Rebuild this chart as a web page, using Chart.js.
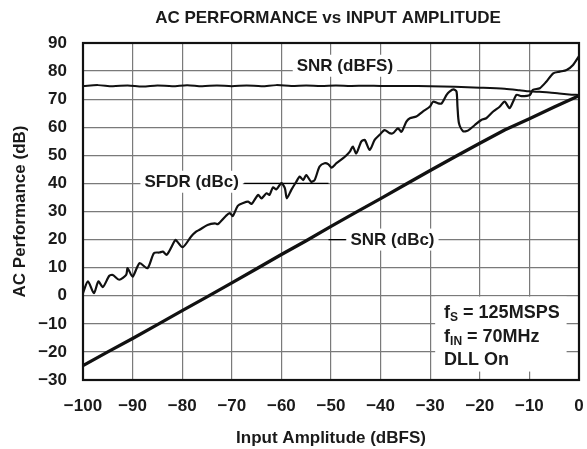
<!DOCTYPE html>
<html>
<head>
<meta charset="utf-8">
<title>AC Performance vs Input Amplitude</title>
<script src="https://cdn.jsdelivr.net/npm/chart.js@4.4.1/dist/chart.umd.min.js"></script>
<style>
  html, body { margin: 0; padding: 0; background: #fff; }
  #wrap { width: 587px; height: 449px; }
</style>
</head>
<body>
<div id="wrap"><canvas id="chart" width="587" height="449"></canvas></div>
<script>
"use strict";

const FONT = "'Liberation Sans', Arial, Helvetica, sans-serif";

const X_TICKS = [-100, -90, -80, -70, -60, -50, -40, -30, -20, -10, 0];
const Y_TICKS = [-30, -20, -10, 0, 10, 20, 30, 40, 50, 60, 70, 80, 90];

// SNR (dBFS)
const snrFsX = [-100, -97, -94, -91, -88, -85, -82, -79, -76, -73, -70, -67, -64, -61, -58,
  -55, -52, -49, -46, -43, -40, -35, -30, -25, -20, -15, -12, -10, -8, -6, -4, -2, 0];
const snrFsY = [74.7, 75.0, 74.6, 74.9, 74.5, 74.9, 74.6, 75.0, 74.6, 74.9, 74.6, 74.9, 74.6, 75.0, 74.7,
  74.9, 74.7, 74.9, 74.7, 74.8, 74.7, 74.7, 74.6, 74.4, 74.1, 73.7, 73.2, 72.8, 72.6, 72.4, 72.0, 71.7, 71.5];

// SNR (dBc)
const snrCX = [-100, -95, -90, -85, -80, -75, -70, -65, -60, -55, -50, -45, -40, -35, -30,
  -25, -20, -15, -10, -5, 0];
const snrCY = [-24.9, -20.0, -15.2, -10.3, -5.3, -0.4, 4.6, 9.6, 14.7, 19.6, 24.7, 29.7, 34.6, 39.6, 44.6,
  49.5, 54.3, 59.0, 63.0, 67.2, 71.2];

// SFDR (dBc)
const sfdrX = [-100, -99.0, -97.8, -96.9, -96.0, -94.7, -94.0, -92.7, -91.3, -91.0, -90.0, -88.6, -87.0,
  -85.7, -84.6, -83.9, -83.1, -81.6, -81.3, -79.9, -78.2, -77.2, -76.5, -74.9, -73.4, -72.8, -71.2,
  -70.4, -69.8, -68.8, -67.7, -66.7, -66.0, -64.7, -64.0, -63.0, -62.4, -61.7, -61.0, -60.0, -59.3,
  -58.9, -58.0, -57.0, -56.3, -55.6, -55.0, -54.0, -53.3, -52.3, -51.3, -50.5, -49.9, -48.9, -47.2,
  -46.2, -45.6, -44.9, -43.9, -43.2, -42.2, -41.2, -40.2, -39.2, -38.2, -37.5, -36.5, -35.8, -34.8,
  -34.1, -32.8, -31.5, -30.1, -29.4, -28.4, -27.7, -26.7, -26.1, -25.3, -24.7, -24.5, -24.2, -23.4,
  -22.4, -21.0, -19.7, -18.7, -17.3, -16.0, -15.0, -14.0, -13.3, -12.6, -11.6, -9.9, -9.3, -7.9,
  -6.6, -5.2, -3.9, -2.5, -1.2, 0];
const sfdrY = [1.0, 5.1, 0.9, 5.1, 3.1, 7.1, 7.4, 5.7, 7.4, 9.8, 6.8, 11.6, 9.8,
  15.2, 15.4, 15.7, 14.6, 19.3, 19.9, 17.3, 21.1, 22.8, 23.5, 25.2, 25.8, 25.5, 28.4,
  29.4, 28.4, 32.0, 33.0, 33.5, 32.7, 35.9, 34.7, 36.5, 35.9, 38.6, 37.9, 40.1, 38.3,
  34.7, 37.7, 40.6, 42.4, 41.2, 43.0, 40.6, 41.2, 46.0, 47.2, 46.8, 45.6, 47.2, 49.5,
  51.3, 53.1, 50.7, 54.9, 55.5, 51.9, 55.5, 57.3, 59.0, 57.9, 57.9, 59.6, 58.4, 62.0,
  63.2, 63.8, 65.6, 67.3, 69.1, 68.5, 68.5, 71.5, 72.7, 73.5, 72.7, 67.3, 61.4, 58.6,
  58.8, 60.8, 62.6, 63.2, 65.6, 67.3, 69.1, 66.8, 69.1, 71.5, 71.1, 71.5, 73.3, 73.9,
  76.2, 79.2, 79.8, 80.4, 82.2, 85.3];

const pts = (xs, ys) => xs.map((x, i) => ({ x, y: ys[i] }));
const fmt = v => (v < 0 ? "\u2212" + Math.abs(v) : String(v));

// labels in value coordinates: [text, x, y]
const CURVE_LABELS = [
  ["SNR (dBFS)", -47.2, 81.9],
  ["SFDR (dBc)", -78.1, 40.6],
  ["SNR (dBc)", -37.6, 20],
];

const overlay = {
  id: "overlay",
  beforeDatasetsDraw(chart) {
    const { ctx, chartArea: a, scales: { x, y } } = chart;
    ctx.save();
    ctx.font = `bold 17px ${FONT}`;
    ctx.textBaseline = "middle";
    ctx.textAlign = "center";

    // leader lines
    ctx.strokeStyle = "#000";
    ctx.lineWidth = 1.2;
    ctx.beginPath();
    ctx.moveTo(x.getPixelForValue(-67.5), y.getPixelForValue(40));
    ctx.lineTo(x.getPixelForValue(-50.5), y.getPixelForValue(40));
    ctx.moveTo(x.getPixelForValue(-50.5), y.getPixelForValue(20));
    ctx.lineTo(x.getPixelForValue(-47), y.getPixelForValue(20));
    ctx.stroke();

    CURVE_LABELS.forEach(([t, vx, vy]) => {
      const px = x.getPixelForValue(vx), py = y.getPixelForValue(vy);
      const w = ctx.measureText(t).width;
      ctx.fillStyle = "#fff";
      ctx.fillRect(px - w / 2 - 4, py - 11, w + 8, 22);
      ctx.fillStyle = "#1a1a1a";
      ctx.fillText(t, px, py + 1);
    });

    // conditions box
    const bx0 = x.getPixelForValue(-29), bx1 = x.getPixelForValue(-2.5);
    const by0 = y.getPixelForValue(-0.3), by1 = y.getPixelForValue(-27);
    ctx.fillStyle = "#fff";
    ctx.fillRect(bx0, by0, bx1 - bx0, by1 - by0);
    ctx.fillStyle = "#1a1a1a";
    ctx.textAlign = "left";
    const tx = x.getPixelForValue(-27.2);
    const lines = [["f", "S", " = 125MSPS"], ["f", "IN", " = 70MHz"], ["DLL On", "", ""]];
    const ly = [313, 337, 360];
    lines.forEach(([a1, sub, rest], i) => {
      let cx = tx;
      ctx.font = `bold 18px ${FONT}`;
      ctx.fillText(a1, cx, ly[i]);
      cx += ctx.measureText(a1).width;
      if (sub) {
        ctx.font = `bold 12px ${FONT}`;
        ctx.fillText(sub, cx, ly[i] + 5);
        cx += ctx.measureText(sub).width;
        ctx.font = `bold 18px ${FONT}`;
        ctx.fillText(rest, cx, ly[i]);
      }
    });

    // frame
    ctx.strokeStyle = "#111";
    ctx.lineWidth = 2.2;
    ctx.strokeRect(a.left, a.top, a.right - a.left, a.bottom - a.top);

    // title
    ctx.textAlign = "center";
    ctx.font = `bold 17px ${FONT}`;
    ctx.fillStyle = "#1a1a1a";
    ctx.fillText("AC PERFORMANCE vs INPUT AMPLITUDE", (a.left + a.right) / 2 - 3, 18);
    ctx.restore();
  },
};

const tickFont = { family: FONT, size: 17, weight: "bold" };

new Chart(document.getElementById("chart"), {
  type: "line",
  data: {
    datasets: [
      { label: "SNR (dBFS)", data: pts(snrFsX, snrFsY), borderColor: "#111", borderWidth: 2, tension: 0.3 },
      { label: "SFDR (dBc)", data: pts(sfdrX, sfdrY), borderColor: "#111", borderWidth: 2.2, tension: 0.25 },
      { label: "SNR (dBc)", data: pts(snrCX, snrCY), borderColor: "#111", borderWidth: 3.3, tension: 0 },
    ],
  },
  options: {
    responsive: false,
    animation: false,
    devicePixelRatio: 1,
    layout: { padding: { top: 43, right: 8, left: 0, bottom: 0 } },
    elements: { point: { radius: 0, hoverRadius: 0 } },
    plugins: { legend: { display: false }, tooltip: { enabled: false }, title: { display: false } },
    scales: {
      x: {
        type: "linear", min: -100, max: 0,
        afterBuildTicks: s => { s.ticks = X_TICKS.map(v => ({ value: v })); },
        afterFit: s => { s.height = 69; s.paddingLeft = 0; s.paddingRight = 0; },
        ticks: { padding: 16, color: "#1a1a1a", font: tickFont, callback: fmt, maxRotation: 0 },
        grid: { color: "#7a7a7a", lineWidth: 1.2, drawTicks: false },
        border: { display: false },
        title: { display: true, text: "Input Amplitude (dBFS)", color: "#1a1a1a", font: tickFont, padding: { top: 0, bottom: 0 } },
      },
      y: {
        type: "linear", min: -30, max: 90,
        afterBuildTicks: s => { s.ticks = Y_TICKS.map(v => ({ value: v })); },
        afterFit: s => { s.width = 83; s.paddingTop = 0; s.paddingBottom = 0; },
        ticks: { padding: 16, color: "#1a1a1a", font: tickFont, callback: fmt },
        grid: { color: "#7a7a7a", lineWidth: 1.2, drawTicks: false },
        border: { display: false },
        title: { display: true, text: "AC Performance (dB)", color: "#1a1a1a", font: tickFont, padding: { top: 10, bottom: 0 } },
      },
    },
  },
  plugins: [overlay],
});
</script>
</body>
</html>
